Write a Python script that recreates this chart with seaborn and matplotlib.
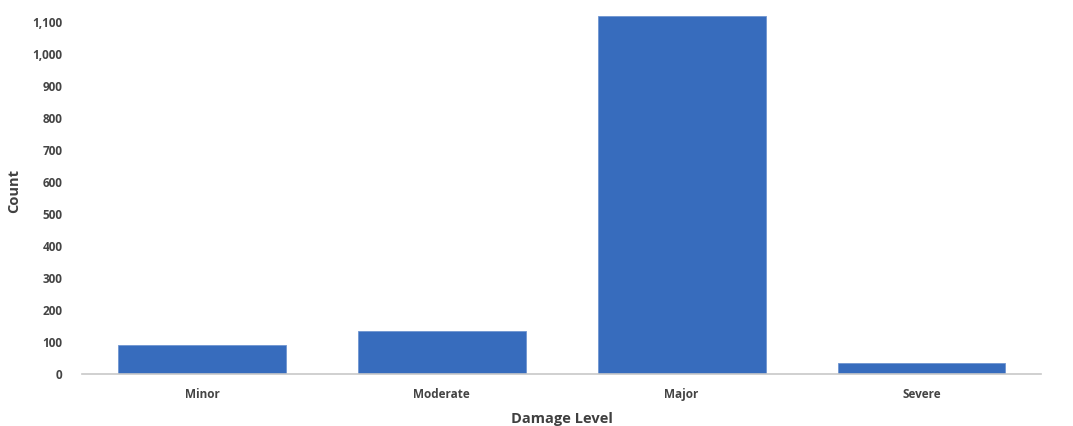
import seaborn as sns
import matplotlib.pyplot as plt
import pandas as pd
from matplotlib.ticker import FuncFormatter, MultipleLocator

levels = ['Minor', 'Moderate', 'Major', 'Severe']
counts = [91, 135, 1118, 33]

df = pd.DataFrame({'Damage Level': levels, 'Count': counts})

sns.set_theme(style="white")
plt.rcParams['font.family'] = ['Open Sans', 'DejaVu Sans']
plt.rcParams['font.weight'] = 'bold'

fig = plt.figure(figsize=(10.73, 4.26), dpi=100)
ax = fig.add_axes([0.0765, 0.122, 0.894, 0.857])

sns.barplot(x='Damage Level', y='Count', data=df, color='#376cbd',
            width=0.7, saturation=1, edgecolor='#6f95d0', linewidth=0.6, ax=ax)

ax.set_ylim(0, 1140)
ax.set_xlim(-0.5, 3.5)
ax.yaxis.set_major_locator(MultipleLocator(100))
ax.yaxis.set_major_formatter(FuncFormatter(lambda v, p: f'{int(v):,}'))

for s in ['top', 'right', 'left']:
    ax.spines[s].set_visible(False)
ax.spines['bottom'].set_color('#c8c8c8')
ax.spines['bottom'].set_linewidth(1.2)

ax.tick_params(axis='y', length=0, pad=14, labelsize=8.5, labelcolor='#444444')
ax.tick_params(axis='x', length=4, color='#c8c8c8', pad=6, labelsize=8.5, labelcolor='#444444')

ax.set_xlabel('Damage Level', fontsize=10.5, fontweight='bold', color='#404040', labelpad=8)
ax.set_ylabel('Count', fontsize=10.5, fontweight='bold', color='#404040', labelpad=8)

plt.savefig('out.png', dpi=100)
